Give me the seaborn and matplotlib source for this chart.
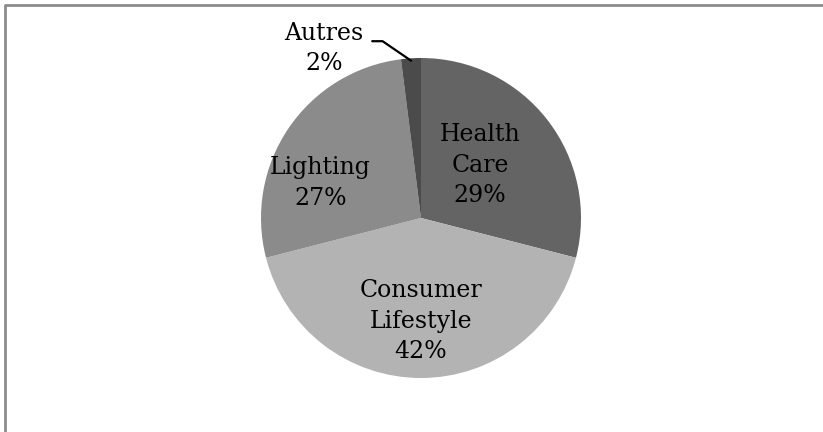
import numpy as np
import matplotlib
matplotlib.use("Agg")
import matplotlib.pyplot as plt
import seaborn as sns
from matplotlib.lines import Line2D

# Data
segments = ["Health\nCare", "Consumer\nLifestyle", "Lighting", "Autres"]
shares = [29, 42, 27, 2]
colours = ["#646464", "#b3b3b3", "#8b8b8b", "#4b4b4b"]

sns.set_theme(style="white")
plt.rcParams['font.family'] = ['DejaVu Serif']

W, H = 823, 432
fig = plt.figure(figsize=(W / 100, H / 100), dpi=100)
fig.patch.set_facecolor("white")

# pie centre (421, 218) px, radius 160 px
cx, cy, r = 421, H - 218, 160
ax = fig.add_axes([(cx - r) / W, (cy - r) / H, 2 * r / W, 2 * r / H])
ax.pie(shares, colors=sns.color_palette(colours), startangle=90, counterclock=False,
       radius=1, wedgeprops=dict(linewidth=0))
ax.set_xlim(-1, 1)
ax.set_ylim(-1, 1)
ax.set_aspect("equal")
ax.axis("off")

fs = 17
ls = 1.42
# label positions inside the slices
label_pos = [(0.37, 0.33), (0.0, -0.645), (-0.63, 0.22)]
for name, val, (x, y) in zip(segments[:3], shares[:3], label_pos):
    ax.text(x, y, f"{name}\n{val}%", ha="center", va="center", fontsize=fs,
            linespacing=ls, color="black")

# Autres: label outside with leader line
ang = np.deg2rad(90 + shares[3] / sum(shares) * 360 / 2)
px, py = np.cos(ang) * 0.985, np.sin(ang) * 0.985
ax.text(-0.605, 1.06, f"Autres\n{shares[3]}%", ha="center", va="center", fontsize=fs,
        linespacing=ls, color="black", clip_on=False)
ax.plot([-0.305, -0.24, px], [1.105, 1.105, py], color="black", lw=1.6, clip_on=False)

# chart frame (left and top edges visible)
fx = 5 / W
fy = 1 - 5 / H
fig.add_artist(Line2D([fx, fx, 1.0], [0.0, fy, fy], transform=fig.transFigure,
                      color="#8c8c8c", lw=2))

fig.savefig("out.png", dpi=100)
